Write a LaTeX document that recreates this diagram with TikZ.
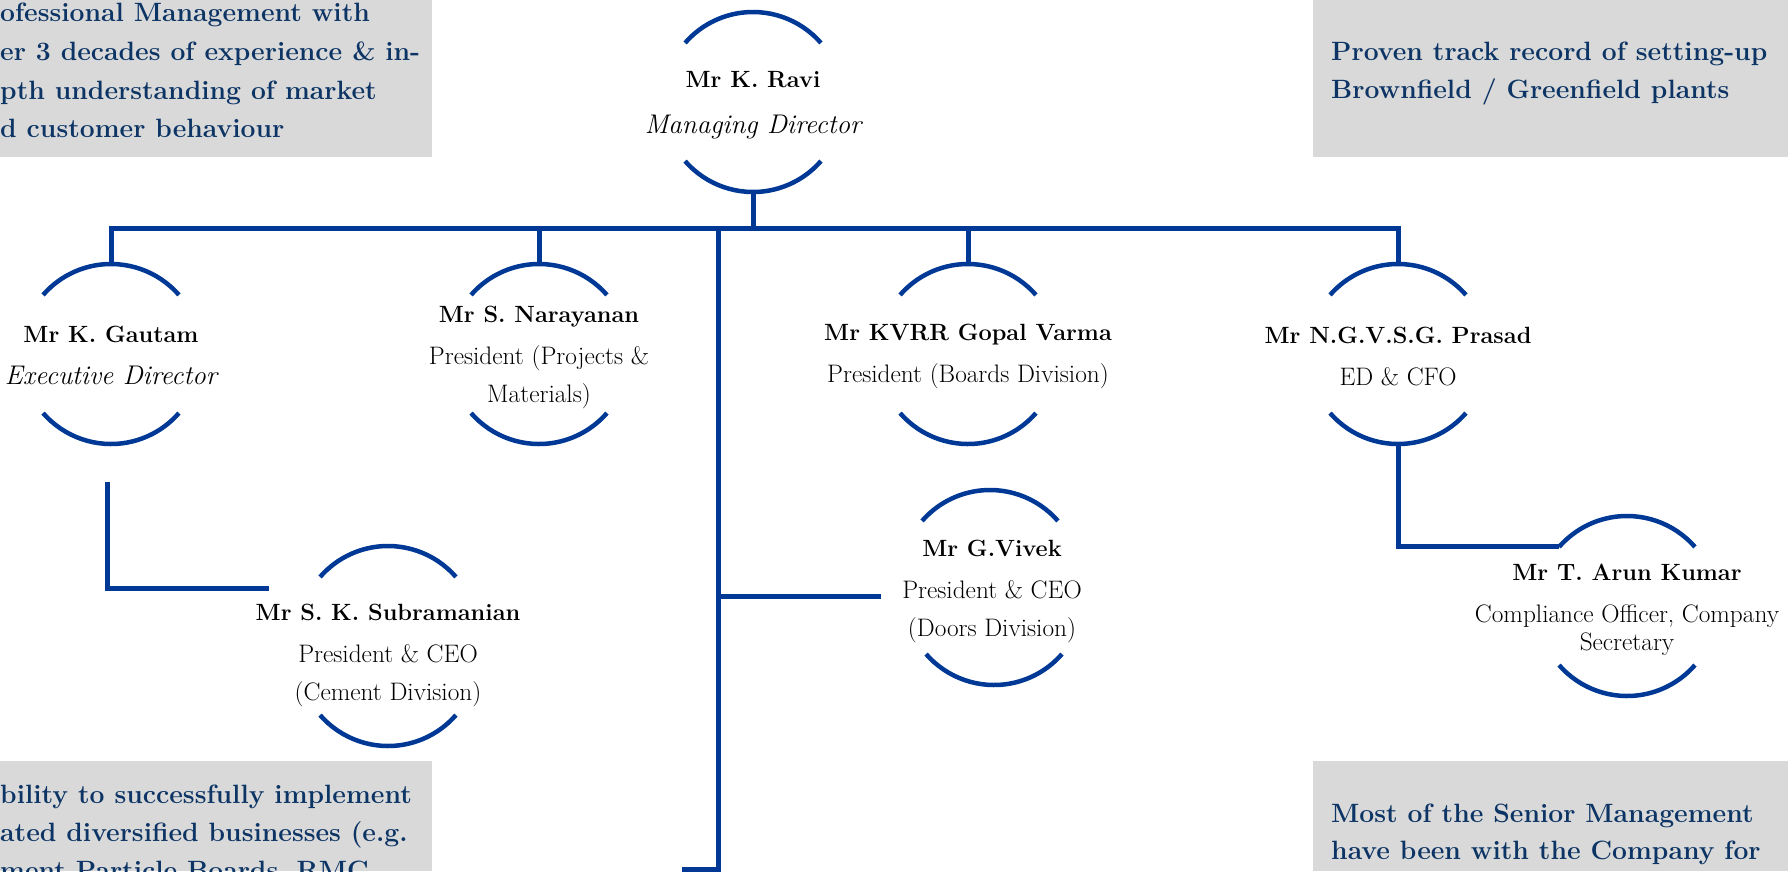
\documentclass[tikz,border=0pt]{standalone}
\definecolor{lineblue}{RGB}{0,56,150}
\definecolor{boxgray}{RGB}{217,217,217}
\definecolor{navyt}{RGB}{12,52,100}
\newcommand{\pname}[1]{{\fontsize{23.5}{38}\selectfont\bfseries #1}}
\newcommand{\prole}[1]{{\fontsize{27}{38}\selectfont\itshape #1}}
\tikzset{
  conn/.style={draw=lineblue, line width=5pt},
  ring/.style={circle, minimum size=180pt, inner sep=0pt, outer sep=0pt, draw=none},
  ringarc/.style={draw=lineblue, line width=4.5pt},
  ptext/.style={align=center, inner sep=0pt, font=\fontsize{25.3}{38}\selectfont},
  graybox/.style={fill=boxgray, draw=none, inner sep=0pt, outer sep=0pt, anchor=north west},
  boxtext/.style={text=navyt, font=\fontsize{26.5}{38}\selectfont\bfseries, anchor=base west, inner sep=0pt},
}
\begin{document}
\begin{tikzpicture}[x=1pt,y=1pt]
\useasboundingbox (0,0) rectangle (1788,-871);
\clip (0,0) rectangle (1788,-871);
% grey boxes
\node[graybox, minimum width=432pt, minimum height=157pt] (boxtl) at (0,0) {};
\node[graybox, minimum width=475pt, minimum height=157pt] (boxtr) at (1313,0) {};
\node[graybox, minimum width=432pt, minimum height=110pt] (boxbl) at (0,-761) {};
\node[graybox, minimum width=475pt, minimum height=110pt] (boxbr) at (1313,-761) {};
\node[boxtext] (tl1) at (0,-21) {ofessional Management with};
\node[boxtext] (tl2) at (0,-60) {er 3 decades of experience \& in-};
\node[boxtext] (tl3) at (0,-99) {pth understanding of market};
\node[boxtext] (tl4) at (0,-137) {d customer behaviour};
\node[boxtext] (tr1) at (1331,-60) {Proven track record of setting-up};
\node[boxtext] (tr2) at (1331,-98) {Brownfield / Greenfield plants};
\node[boxtext] (bl1) at (0,-803) {bility to successfully implement};
\node[boxtext] (bl2) at (0,-841) {ated diversified businesses (e.g.};
\node[boxtext] (bl3) at (0,-879) {ment Particle Boards, RMC};
\node[boxtext] (br1) at (1331,-822) {Most of the Senior Management};
\node[boxtext] (br2) at (1331,-859) {have been with the Company for};
% person rings
\node[ring] (ravi) at (753,-102) {};
\node[ring] (gau) at (111,-354) {};
\node[ring] (nar) at (539,-354) {};
\node[ring] (var) at (968,-354) {};
\node[ring] (pra) at (1398,-354) {};
\node[ring] (sub) at (388,-646) {};
\node[ring] (viv) at (992,-588) {};
\node[ring] (aru) at (1627,-606) {};
\foreach \n in {ravi,gau,nar,var,pra,aru} {
  \draw[ringarc] (\n.41) arc[start angle=41,end angle=139,radius=90pt];
  \draw[ringarc] (\n.221) arc[start angle=221,end angle=319,radius=90pt];
}
\draw[ringarc] ([shift={(-2pt,8pt)}]viv.41) arc[start angle=41,end angle=139,radius=90pt];
\draw[ringarc] ([shift={(2pt,-7pt)}]viv.221) arc[start angle=221,end angle=319,radius=90pt];
\draw[ringarc] ([yshift=10pt]sub.41) arc[start angle=41,end angle=139,radius=90pt];
\draw[ringarc] ([yshift=-10pt]sub.221) arc[start angle=221,end angle=319,radius=90pt];
% texts
\node[ptext] (ravi-t) at ([yshift=-3pt]ravi.center) {\pname{Mr K. Ravi}\\[8pt]\prole{Managing Director}};
\node[ptext] (gau-t) at ([yshift=-1pt]gau.center) {\pname{Mr K. Gautam}\\[4pt]\prole{Executive Director}};
\node[ptext] (nar-t) at ([yshift=-3.5pt]nar.center) {\pname{Mr S. Narayanan}\\[4pt]President (Projects \&\\Materials)};
\node[ptext] (var-t) at ([yshift=-2.5pt]var.center) {\pname{Mr KVRR Gopal Varma}\\[4pt]President (Boards Division)};
\node[ptext] (pra-t) at ([yshift=-2.5pt]pra.center) {\pname{Mr N.G.V.S.G. Prasad}\\[4pt]ED \& CFO};
\node[ptext] (sub-t) at ([yshift=-9.5pt]sub.center) {\pname{Mr S. K. Subramanian}\\[4pt]President \& CEO\\(Cement Division)};
\node[ptext] (viv-t) at ([yshift=-3.5pt]viv.center) {\pname{Mr G.Vivek}\\[4pt]President \& CEO\\(Doors Division)};
\node[ptext] (aru-t) at ([yshift=-3.5pt]aru.center) {\pname{Mr T. Arun Kumar}\\[4pt]Compliance Officer, Company\\[-10pt]Secretary};
% connectors
\coordinate (bus) at (753,-228);
\draw[conn] (gau.north) |- (bus) -| (pra.north);
\draw[conn] (ravi.south) -- (bus);
\draw[conn] (nar.north) -- (nar.north |- bus);
\draw[conn] (var.north) -- (var.north |- bus);
\coordinate (cvtop) at (718,-228);
\coordinate (cvbot) at (718,-869);
\coordinate (cvend) at (682,-869);
\draw[conn] (cvtop) -- (cvbot) -- (cvend);
\coordinate (vivin) at (881,-596);
\draw[conn] (vivin -| cvtop) -- (vivin);
\coordinate (gaudown) at (107,-482);
\coordinate (subin) at (269,-588);
\draw[conn] (gaudown) |- (subin);
\draw[conn] (pra.south) |- (aru.139);
\end{tikzpicture}
\end{document}
